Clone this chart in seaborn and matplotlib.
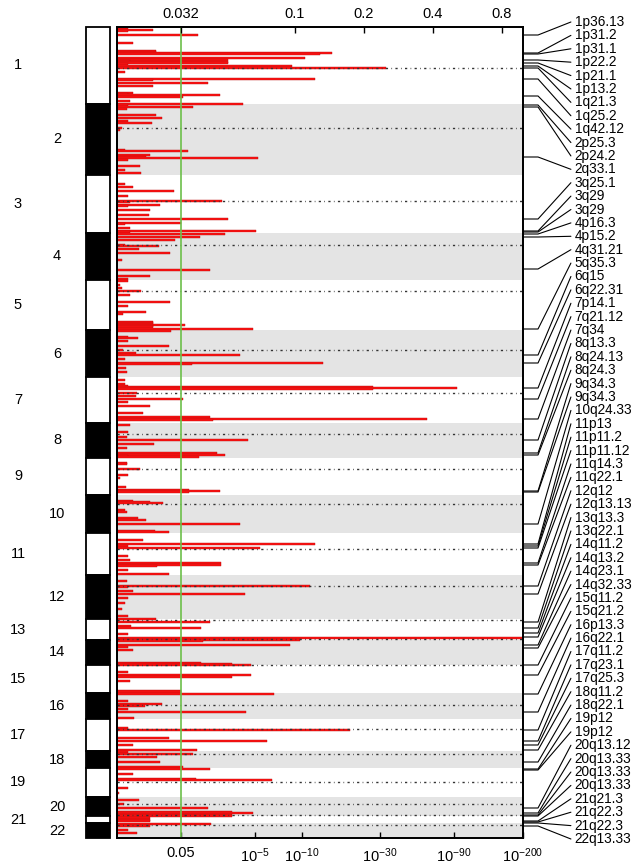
import numpy as np
import pandas as pd
import seaborn as sns
import matplotlib.pyplot as plt
from matplotlib.transforms import blended_transform_factory
from matplotlib.ticker import NullLocator

# genome axis in binned marker units, chr1 pter at the top
chrom_names = [str(i) for i in range(1, 23)]
chrom_start = [0, 77, 148, 206, 253, 303, 350, 396, 431, 468, 506,
               548, 592, 613, 638, 666, 692, 724, 741, 770, 789, 796]
genome_end = 811
centromere = [41, 101, 174, 218, 264, 323, 366, 407, 442, 477, 522,
              559, 593, 612, 638, 678, 702, 727, 755, 777, 788, 798]

# amplification G-score profile (segment position, G-score)
seg_pos = [2, 3, 4, 8, 16, 24, 25, 26, 27, 31, 33, 34, 35, 36, 37, 39, 41, 45, 52, 53,
           56, 59, 66, 67, 68, 70, 74,
           77, 78, 80, 82, 88, 91, 94, 96, 101, 103, 123, 124, 128, 130, 131, 133, 139, 143, 146,
           157, 160, 164, 169, 174, 175, 178, 179, 183, 188, 192, 196, 197, 201, 204, 205,
           207, 210, 213, 218, 219, 222, 226, 233, 243, 249, 252,
           254, 258, 261, 264, 268, 275, 279, 285, 287, 295, 296, 297, 298, 299, 300, 302,
           304, 310, 311, 314, 319, 323, 326, 328, 332, 336, 337, 341, 345,
           353, 357, 359, 360, 361, 362, 366, 369, 372, 375, 379, 386, 390, 392, 393,
           398, 405, 410, 413, 417, 421, 426, 428, 429, 430,
           436, 437, 442, 448, 451, 460, 463, 464, 465,
           474, 475, 476, 483, 485, 491, 493, 497, 504, 505,
           513, 517, 519, 521, 529, 533, 536, 538, 539, 543, 547,
           554, 559, 560, 564, 567, 571, 576, 582, 589,
           592, 595, 599, 601, 607, 611,
           613, 614, 618, 620, 623,
           636, 637, 638, 645, 648, 650, 654,
           664, 665, 667, 674, 677, 679, 682, 685, 691,
           701, 703, 711, 714, 718, 723,
           725, 727, 730, 735, 740,
           742, 747, 752, 753, 761, 766,
           773, 777, 781, 785, 786, 788,
           789, 791, 793, 794,
           797, 799, 803, 806]
seg_gscore = [0.0188, 0.0242, 0.0188, 0.0380, 0.0198, 0.0249, 0.0249, 0.1453, 0.1289, 0.1109,
              0.0512, 0.0192, 0.0512, 0.0512, 0.0188, 0.0974, 0.2504, 0.0183, 0.1225, 0.0242,
              0.0419, 0.0242, 0.0198, 0.0188, 0.0473, 0.0327, 0.0192,
              0.0595, 0.0188, 0.0361, 0.0186, 0.0249, 0.0264, 0.0188, 0.0239, 0.0177, 0.0174,
              0.0183, 0.0343, 0.0234, 0.0225, 0.0691, 0.0188, 0.0212, 0.0183, 0.0214,
              0.0183, 0.0198, 0.0298, 0.0188, 0.0482, 0.0192, 0.0259, 0.0188, 0.0234, 0.0232,
              0.0512, 0.0320, 0.0183, 0.0192, 0.0677, 0.0192,
              0.0497, 0.0387, 0.0301, 0.0183, 0.0256, 0.0210, 0.0287, 0.0177, 0.0427, 0.0234, 0.0188,
              0.0188, 0.0174, 0.0177, 0.0214, 0.0192, 0.0287, 0.0188, 0.0225, 0.0179, 0.0242,
              0.0242, 0.0242, 0.0333, 0.0242, 0.0242, 0.0657,
              0.0289, 0.0188, 0.0208, 0.0188, 0.0284, 0.0179, 0.0204, 0.0578, 0.0183, 0.1328,
              0.0357, 0.0184, 0.0186,
              0.0183, 0.0183, 0.0188, 0.2196, 0.5100, 0.2196, 0.0206, 0.0204, 0.0327, 0.0188,
              0.0234, 0.0219, 0.0427, 0.3767, 0.0440,
              0.0192, 0.0188, 0.0186, 0.0625, 0.0244, 0.0186, 0.0459, 0.0497, 0.0188, 0.0383,
              0.0186, 0.0186, 0.0212, 0.0188, 0.0174, 0.0184, 0.0347, 0.0473, 0.0347,
              0.0198, 0.0234, 0.0267, 0.0183, 0.0186, 0.0208, 0.0225, 0.0578, 0.0246, 0.0284,
              0.0219, 0.1225, 0.0188, 0.0707, 0.0188, 0.0192, 0.0477, 0.0477, 0.0251, 0.0188, 0.0284,
              0.0186, 0.1166, 0.0188, 0.0198, 0.0607, 0.0188, 0.0183, 0.0177, 0.0188,
              0.0249, 0.0427, 0.0194, 0.0391, 0.0188, 1.2,
              0.1055, 0.0398, 0.0954, 0.0188, 0.0198,
              0.0391, 0.0533, 0.0644, 0.0188, 0.0644, 0.0533, 0.0192,
              0.0320, 0.0320, 0.0812, 0.0188, 0.0264, 0.0223, 0.0188, 0.0613, 0.0200,
              0.0188, 0.1740, 0.0284, 0.0757, 0.0198, 0.0375,
              0.0188, 0.0361, 0.0251, 0.0259, 0.0327,
              0.0427, 0.0198, 0.0371, 0.0796, 0.0188, 0.0172,
              0.0210, 0.0181, 0.0419, 0.0533, 0.0657, 0.0533,
              0.0533, 0.0234, 0.0234, 0.0234,
              0.0432, 0.0234, 0.0188, 0.0206]

peak_labels = ['1p36.13', '1p31.2', '1p31.1', '1p22.2', '1p21.1', '1p13.2', '1q21.3',
               '1q25.2', '1q42.12', '2p25.3', '2p24.2', '2q33.1', '3q25.1', '3q29', '3q29',
               '4p16.3', '4p15.2', '4q31.21', '5q35.3', '6q15', '6q22.31', '7p14.1',
               '7q21.12', '7q34', '8q13.3', '8q24.13', '8q24.3', '9q34.3', '9q34.3',
               '10q24.33', '11p13', '11p11.2', '11p11.12', '11q14.3', '11q22.1', '12q12',
               '12q13.13', '13q13.3', '13q22.1', '14q11.2', '14q13.2', '14q23.1',
               '14q32.33', '15q11.2', '15q21.2', '16p13.3', '16q22.1', '17q11.2',
               '17q23.1', '17q25.3', '18q11.2', '18q22.1', '19p12', '19p12', '20q13.12',
               '20q13.33', '20q13.33', '20q13.33', '21q21.3', '21q22.3', '21q22.3',
               '22q13.33']
peak_pos = [8, 26, 27, 33, 36, 39, 41, 52, 69, 78, 80, 130, 192, 204, 205, 207, 210, 242,
            302, 328, 336, 361, 372, 392, 413, 426, 428, 464, 465, 497, 517, 519, 521, 536,
            538, 559, 567, 595, 601, 606, 610, 618, 621, 638, 648, 667, 685, 703, 714, 718,
            723, 735, 742, 743, 781, 786, 788, 789, 794, 795, 796, 799]

gscore_ticks = [0.032, 0.1, 0.2, 0.4, 0.8]
gscore_tick_labels = ['0.032', '0.1', '0.2', '0.4', '0.8']
q_tick_gscore = [0.032, 0.0672, 0.1077, 0.2354, 0.4945, 0.988]
q_tick_labels = ['0.05', '$10^{-5}$', '$10^{-10}$', '$10^{-30}$', '$10^{-90}$', '$10^{-200}$']
q_threshold_gscore = 0.032
g_range = (0.01684, 0.988)

sns.set_style('white', {'axes.edgecolor': 'black', 'text.color': 'black',
                        'xtick.color': 'black', 'ytick.color': 'black'})
plt.rcParams['font.family'] = ['Liberation Sans', 'DejaVu Sans']
plt.rcParams['mathtext.default'] = 'regular'

df = pd.DataFrame({'pos': seg_pos, 'gscore': seg_gscore})

fig = plt.figure(figsize=(6.44, 8.67), dpi=100)
ax = fig.add_axes([117 / 644, 1 - 838 / 867, 406 / 644, 811 / 867])
ax_chr = fig.add_axes([86 / 644, 1 - 838 / 867, 24 / 644, 811 / 867])

# even chromosomes shaded, centromeres dotted
chrom_end = chrom_start[1:] + [genome_end]
for i, (s, e) in enumerate(zip(chrom_start, chrom_end)):
    if i % 2 == 1:
        ax.axhspan(s, e, color='#e4e4e4', lw=0, zorder=0)

sns.barplot(data=df, x='gscore', y='pos', orient='h', native_scale=True, width=1.5,
            color='#ff1212', saturation=1, edgecolor='#b80c0c', linewidth=0.3,
            errorbar=None, ax=ax, zorder=2)

for c in centromere:
    ax.axhline(c, color='#333333', lw=1.0, linestyle=(0, (1.6, 2.4, 0.5, 2.4)), zorder=3)
ax.axvline(q_threshold_gscore, color='#6cbf4a', lw=1.2, zorder=4)

ax.set_xscale('log')
ax.set_xlim(*g_range)
ax.set_ylim(genome_end, 0)
ax.set_xlabel('')
ax.set_ylabel('')
ax.set_yticks([])
ax.xaxis.set_minor_locator(NullLocator())
ax.set_xticks(q_tick_gscore)
ax.set_xticklabels(q_tick_labels)
ax.tick_params(axis='x', direction='in', length=4, width=1, labelsize=10.5, pad=6,
               colors='black')
for sp in ax.spines.values():
    sp.set_linewidth(1.3)

ax_top = ax.twiny()
ax_top.set_xscale('log')
ax_top.set_xlim(*g_range)
ax_top.xaxis.set_minor_locator(NullLocator())
ax_top.set_xticks(gscore_ticks)
ax_top.set_xticklabels(gscore_tick_labels)
ax_top.tick_params(axis='x', direction='in', length=4, width=1, labelsize=10.5, pad=4,
                   colors='black')
for sp in ax_top.spines.values():
    sp.set_linewidth(1.3)

# chromosome ideogram
sizes = np.diff(chrom_start + [genome_end])
ax_chr.bar(x=[0.5] * len(sizes), height=sizes, bottom=chrom_start, width=1,
           color=['white' if i % 2 == 0 else 'black' for i in range(len(sizes))],
           edgecolor='black', linewidth=1.3, clip_on=False)
ax_chr.set_xlim(0, 1)
ax_chr.set_ylim(genome_end, 0)
ax_chr.axis('off')

trans_lab = blended_transform_factory(fig.transFigure, ax.transData)
for i, (name, s, e) in enumerate(zip(chrom_names, chrom_start, chrom_end)):
    xx = 18 / 644 if i % 2 == 0 else 57 / 644
    fig.text(xx, (s + e) / 2, name, transform=trans_lab, ha='center', va='center',
             fontsize=10.5, color='black')

# peak cytoband labels with connectors
trans_r = blended_transform_factory(ax.transAxes, ax.transData)
label_y = np.linspace(-5, 812, len(peak_labels))
for lab, p, ly in zip(peak_labels, peak_pos, label_y):
    ax.plot([1.0, 1.037, 1.118], [p, p, ly], transform=trans_r, color='black',
            lw=0.8, clip_on=False, zorder=5)
    ax.text(1.127, ly, lab, transform=trans_r, ha='left', va='center', fontsize=9.8,
            color='black', clip_on=False)

fig.savefig('out.png', dpi=100)
